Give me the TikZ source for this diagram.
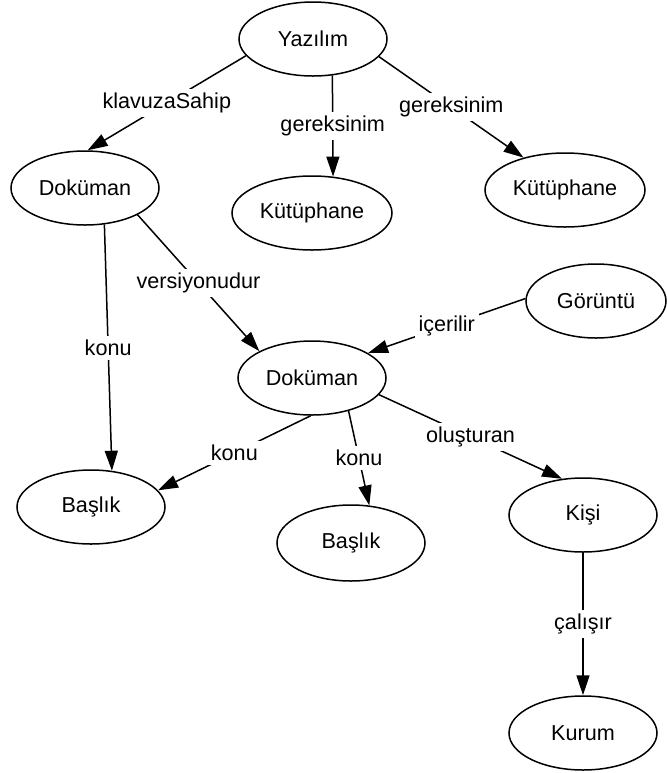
\documentclass[tikz,border=0pt]{standalone}
\usepackage{fontspec}
\setmainfont{Liberation Sans}
\usetikzlibrary{arrows.meta,shapes.geometric}

\begin{document}
\begin{tikzpicture}[x=0.5pt,y=-0.5pt,
  kavram/.style={draw,ellipse,line width=0.75pt,minimum width=74pt,minimum height=37pt,inner sep=0pt,font=\fontsize{10.8}{13}\selectfont},
  iliski/.style={line width=0.75pt,-{Triangle[length=10pt,width=6.5pt]}},
  etiket/.style={midway,fill=white,inner sep=2pt,font=\fontsize{10.8}{13}\selectfont}]
  \useasboundingbox (0,0) rectangle (666,773);
  \node[kavram] (yaz) at (313,39) {Yazılım};
  \node[kavram] (dok1) at (85,188) {Doküman};
  \node[kavram,minimum width=80pt] (kut1) at (312,213) {Kütüphane};
  \node[kavram,minimum width=80pt] (kut2) at (565,190) {Kütüphane};
  \node[kavram,minimum width=70pt] (gor) at (596,301) {Görüntü};
  \node[kavram] (dok2) at (312,378) {Doküman};
  \node[kavram] (bas1) at (91,507) {Başlık};
  \node[kavram,minimum height=38pt] (bas2) at (351,543) {Başlık};
  \node[kavram] (kisi) at (583,515) {Kişi};
  \node[kavram] (kurum) at (583,733) {Kurum};
  \draw[iliski] (yaz.194) -- (dok1.86) node[etiket] (e1) {klavuzaSahip};
  \draw[iliski] (yaz.-62) -- (kut1.60) node[etiket] (e2) {gereksinim};
  \draw[iliski] (yaz.-15) -- (kut2.142) node[etiket] (e3) {gereksinim};
  \draw[iliski] (dok1.-62) -- (bas1.60) node[etiket] (e4) {konu};
  \draw[iliski] (dok1.-27) -- (dok2.153) node[etiket] (e5) {versiyonudur};
  \draw[iliski] (gor.178) -- (dok2.24) node[etiket] (e6) {içerilir};
  \draw[iliski] (dok2.-92) -- (bas1.14) node[etiket] (e7) {konu};
  \draw[iliski] (dok2.-42) -- (bas2.64) node[etiket] (e8) {konu};
  \draw[iliski] (dok2.-14) -- (kisi.120) node[etiket] (e9) {oluşturan};
  \draw[iliski] (kisi) -- (kurum) node[etiket] (e10) {çalışır};
\end{tikzpicture}
\end{document}
